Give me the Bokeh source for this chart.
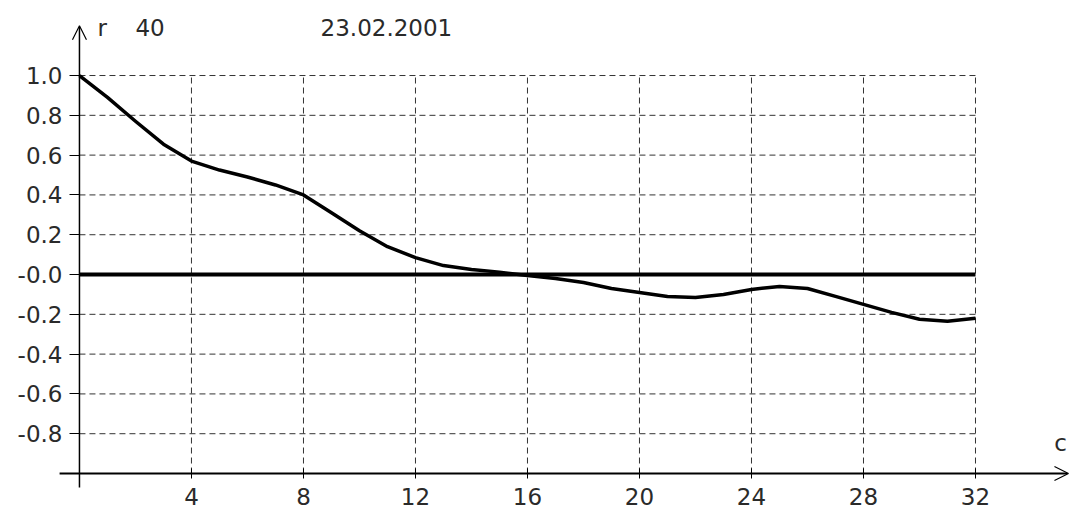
from bokeh.plotting import figure
from bokeh.models import (LinearAxis, FixedTicker, ColumnDataSource, Arrow, OpenHead,
                          Label, PrintfTickFormatter)
from bokeh.embed import file_html
from bokeh.resources import INLINE

# ---- data ----
lag = list(range(33))
r = [1.00, 0.89, 0.77, 0.655, 0.57, 0.525, 0.49, 0.45, 0.40, 0.31, 0.22,
     0.14, 0.085, 0.045, 0.025, 0.012, -0.005, -0.02, -0.04, -0.07, -0.09,
     -0.11, -0.115, -0.10, -0.075, -0.06, -0.07, -0.11, -0.15, -0.19,
     -0.225, -0.235, -0.22]
x_ticks = [4, 8, 12, 16, 20, 24, 28, 32]
y_ticks = [-0.8, -0.6, -0.4, -0.2, 0.0, 0.2, 0.4, 0.6, 0.8, 1.0]
y_label_overrides = {0: "-0.0"}
title_n = "40"
title_date = "23.02.2001"
y_name = "r"
x_name = "c"

# axis frame of the diagram
X_MIN, X_MAX = 0, 32
Y_MIN, Y_MAX = -1.0, 1.0

FONT = "DejaVu Sans"
FSIZE = "23px"
TXT = "#2a2a2a"

p = figure(width=1080, height=516, x_range=(-2.82, 35.75), y_range=(-1.216, 1.377),
           x_axis_type=None, y_axis_type=None, toolbar_location=None,
           output_backend="svg", min_border=0, outline_line_color=None,
           background_fill_color="white", border_fill_color="white")
p.grid.visible = False

# dashed grid, limited to the diagram area
vg = ColumnDataSource(dict(x=x_ticks, y0=[Y_MIN] * len(x_ticks), y1=[Y_MAX] * len(x_ticks)))
p.segment(x0="x", x1="x", y0="y0", y1="y1", source=vg, line_color="#333333",
          line_width=1, line_dash="6 4")
hy = [v for v in y_ticks if v != 0.0]
hg = ColumnDataSource(dict(y=hy, x0=[X_MIN] * len(hy), x1=[X_MAX] * len(hy)))
p.segment(x0="x0", x1="x1", y0="y", y1="y", source=hg, line_color="#333333",
          line_width=1, line_dash="6 4")

# zero line
p.segment(x0=[min(lag)], x1=[max(lag)], y0=[0.0], y1=[0.0], line_color="black", line_width=4)

# autocorrelation curve
src = ColumnDataSource(dict(c=lag, r=r))
p.line("c", "r", source=src, line_color="black", line_width=3.5, line_join="round")

# axes (ticks and labels)
xa = LinearAxis(fixed_location=Y_MIN, ticker=FixedTicker(ticks=x_ticks),
                axis_line_color=None, major_tick_in=5, major_tick_out=5,
                major_tick_line_color="black", minor_tick_line_color=None,
                major_label_text_font=FONT, major_label_text_font_size=FSIZE,
                major_label_text_color=TXT, major_label_standoff=9)
p.add_layout(xa, "below")
ya = LinearAxis(fixed_location=X_MIN, ticker=FixedTicker(ticks=y_ticks),
                formatter=PrintfTickFormatter(format="%.1f"),
                major_label_overrides=y_label_overrides,
                axis_line_color=None, major_tick_in=0, major_tick_out=10,
                major_tick_line_color="black", minor_tick_line_color=None,
                major_label_text_font=FONT, major_label_text_font_size=FSIZE,
                major_label_text_color=TXT, major_label_standoff=7)
p.add_layout(ya, "left")

# axis lines with arrow heads
p.add_layout(Arrow(end=OpenHead(size=14, line_width=1.2), x_start=-0.71, y_start=Y_MIN,
                   x_end=35.32, y_end=Y_MIN, line_width=2, line_color="black"))
p.add_layout(Arrow(end=OpenHead(size=14, line_width=1.2), x_start=X_MIN, y_start=-1.07,
                   x_end=X_MIN, y_end=1.25, line_width=1.5, line_color="black"))

# texts
for txt, x in [(y_name, 0.64), (title_n, 2.0), (title_date, 8.61)]:
    p.add_layout(Label(x=x, y=1.239, text=txt, text_font=FONT, text_font_size=FSIZE,
                       text_color=TXT, text_baseline="middle", text_align="left"))
p.add_layout(Label(x=35.04, y=-0.849, text=x_name, text_font=FONT, text_font_size=FSIZE,
                   text_color=TXT, text_baseline="middle", text_align="center"))

open("out.html", "w").write(file_html(p, INLINE))
